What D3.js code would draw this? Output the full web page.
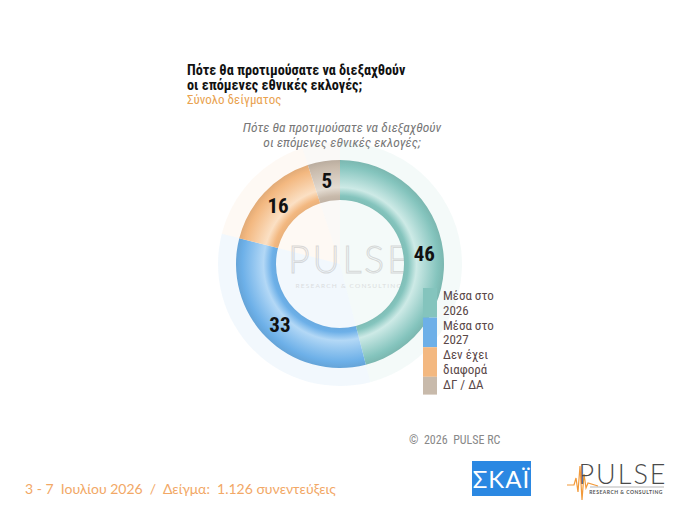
<!DOCTYPE html>
<html>
<head>
<meta charset="utf-8">
<script src="https://cdn.jsdelivr.net/npm/d3@7"></script>
<style>
  body { margin: 0; background: #fff; }
  svg { display: block; }
</style>
</head>
<body>
<div id="chart"></div>
<script>
// chart data
const categories = ["Μέσα στο\n2026", "Μέσα στο\n2027", "Δεν έχει\nδιαφορά", "ΔΓ / ΔΑ"];
const values = [46, 33, 16, 5];
const titleLines = ["Πότε θα προτιμούσατε να διεξαχθούν", "οι επόμενες εθνικές εκλογές;"];
const subtitle = "Σύνολο δείγματος";
const footer = "3 - 7  Ιουλίου 2026  /  Δείγμα:  1.126 συνεντεύξεις";

const w = 680,
  h = 510;
const cx = 340,
  cy = 264,
  rIn = 64,
  rOut = 104;

const condensed = "'Liberation Sans Narrow', 'Roboto Condensed', Roboto, sans-serif";

const svg = d3.select("#chart").append("svg")
  .attr("width", w)
  .attr("height", h);

const base = ["#84c4bd", "#6db0e8", "#f3b880", "#c8baab"];
const light = ["#cdeae6", "#b3d8f6", "#fbe0c4", "#e4dcd2"];
const color = d3.scaleOrdinal().domain(categories).range(base);

// tube-like shading for each slice (gradient lives in the ring group's coords)
const defs = svg.append("defs");
categories.forEach((c, i) => {
  const g = defs.append("radialGradient")
    .attr("id", `grad${i}`)
    .attr("gradientUnits", "userSpaceOnUse")
    .attr("cx", 0).attr("cy", 0).attr("r", rOut);
  const f = rIn / rOut;
  [[f, d3.color(base[i]).darker(0.1)], [f + 0.04, base[i]], [f + 0.12, light[i]],
    [f + 0.22, d3.interpolateRgb(light[i], base[i])(0.5)],
    [0.94, base[i]], [1, d3.color(base[i]).darker(0.2)]]
    .forEach(([o, col]) => g.append("stop").attr("offset", o).attr("stop-color", col));
});

// titles
svg.append("text")
  .attr("x", 187).attr("y", 75)
  .attr("font-family", condensed)
  .attr("font-weight", "bold")
  .attr("font-size", 14.2)
  .attr("fill", "#111")
  .selectAll("tspan")
  .data(titleLines)
  .enter()
  .append("tspan")
  .attr("x", 187)
  .attr("dy", (d, i) => i ? 14.5 : 0)
  .text((d) => d);

svg.append("text")
  .attr("x", 187).attr("y", 103.5)
  .attr("font-family", condensed)
  .attr("font-size", 13)
  .attr("fill", "#e9a24f")
  .text(subtitle);

svg.append("text")
  .attr("y", 132)
  .attr("text-anchor", "middle")
  .attr("font-family", condensed)
  .attr("font-style", "italic")
  .attr("font-size", 13.5)
  .attr("fill", "#777")
  .selectAll("tspan")
  .data(titleLines)
  .enter()
  .append("tspan")
  .attr("x", cx + 2)
  .attr("dy", (d, i) => i ? 15 : 0)
  .text((d) => d);

const pie = d3.pie().sort(null).value((d) => d);
const arcs = pie(values);

// pale halo behind the ring
const halo = svg.append("g").attr("transform", `translate(${cx},${cy})`);
halo.selectAll("path")
  .data(arcs)
  .enter()
  .append("path")
  .attr("d", d3.arc().innerRadius(0).outerRadius(122))
  .attr("fill", (d, i) => color(categories[i]))
  .attr("opacity", 0.09);

// watermark
const wm = svg.append("g").attr("opacity", 0.55);
wm.append("text")
  .attr("x", cx + 10).attr("y", 273)
  .attr("text-anchor", "middle")
  .attr("font-family", "Lato, 'Open Sans', sans-serif")
  .attr("font-weight", 300)
  .attr("font-size", 37)
  .attr("letter-spacing", 3)
  .attr("fill", "none")
  .attr("stroke", "#bdbdbd")
  .attr("stroke-width", 1)
  .text("PULSE");
wm.append("text")
  .attr("x", cx + 9).attr("y", 288)
  .attr("text-anchor", "middle")
  .attr("font-family", "Lato, sans-serif")
  .attr("font-size", 6.5)
  .attr("letter-spacing", 1.2)
  .attr("fill", "#c8c8c8")
  .text("RESEARCH & CONSULTING");

// the ring
const ring = svg.append("g").attr("transform", `translate(${cx},${cy})`);
const arc = d3.arc().innerRadius(rIn).outerRadius(rOut);
ring.selectAll("path")
  .data(arcs)
  .enter()
  .append("path")
  .attr("d", arc)
  .attr("fill", (d, i) => `url(#grad${i})`);

const labelArc = d3.arc().innerRadius(84).outerRadius(86);
ring.selectAll("text")
  .data(arcs)
  .enter()
  .append("text")
  .attr("transform", (d) => {
    const [x, y] = labelArc.centroid(d);
    return `translate(${x},${y})`;
  })
  .attr("dy", "0.36em")
  .attr("text-anchor", "middle")
  .attr("font-family", condensed)
  .attr("font-weight", "bold")
  .attr("font-size", 21)
  .attr("fill", "#111")
  .text((d) => d.data);

// legend
const lineH = 14.8;
let ly = 288;
const legend = svg.append("g");
categories.forEach((c, i) => {
  const lines = c.split("\n");
  const hh = lines.length * lineH + (i === categories.length - 1 ? 3 : 0);
  legend.append("rect")
    .attr("x", 423).attr("y", ly)
    .attr("width", 14).attr("height", hh)
    .attr("fill", color(c));
  legend.append("text")
    .attr("font-family", condensed)
    .attr("font-size", 13)
    .attr("fill", "#5a4848")
    .selectAll("tspan")
    .data(lines)
    .enter()
    .append("tspan")
    .attr("x", 443)
    .attr("y", (d, j) => ly + 12 + j * lineH)
    .text((d) => d);
  ly += hh;
});

svg.append("text")
  .attr("x", 409).attr("y", 444)
  .attr("font-family", condensed)
  .attr("font-size", 12)
  .attr("fill", "#888")
  .attr("xml:space", "preserve")
  .text("©  2026  PULSE RC");

// footer
svg.append("text")
  .attr("x", 25).attr("y", 494)
  .attr("font-family", "Lato, sans-serif")
  .attr("font-size", 14)
  .attr("fill", "#f2a866")
  .attr("xml:space", "preserve")
  .text(footer);

// SKAI logo
svg.append("rect")
  .attr("x", 472).attr("y", 461)
  .attr("width", 59).attr("height", 35)
  .attr("fill", "#2b88e2");
svg.append("text")
  .attr("x", 501.5).attr("y", 488)
  .attr("text-anchor", "middle")
  .attr("font-family", "Lato, sans-serif")
  .attr("font-size", 24)
  .attr("letter-spacing", 1)
  .attr("fill", "#fff")
  .text("ΣΚΑΪ");

// PULSE logo
svg.append("path")
  .attr("d", "M567,485 L574,485 L576,478 L578,492 L580,466 L582,500 L584,474 L586,488 L588,483 L598,486")
  .attr("fill", "none")
  .attr("stroke", "#f29a3a")
  .attr("stroke-width", 1.2);
svg.append("text")
  .attr("x", 623).attr("y", 484)
  .attr("text-anchor", "middle")
  .attr("font-family", "Lato, sans-serif")
  .attr("font-weight", 300)
  .attr("font-size", 27)
  .attr("letter-spacing", 2)
  .attr("fill", "#4a4a4a")
  .text("PULSE");
svg.append("line")
  .attr("x1", 590).attr("x2", 664)
  .attr("y1", 487).attr("y2", 487)
  .attr("stroke", "#888").attr("stroke-width", 0.6);
svg.append("text")
  .attr("x", 626).attr("y", 494)
  .attr("text-anchor", "middle")
  .attr("font-family", "Lato, sans-serif")
  .attr("font-weight", "bold")
  .attr("font-size", 5)
  .attr("letter-spacing", 0.5)
  .attr("fill", "#555")
  .text("RESEARCH & CONSULTING");
</script>
</body>
</html>
